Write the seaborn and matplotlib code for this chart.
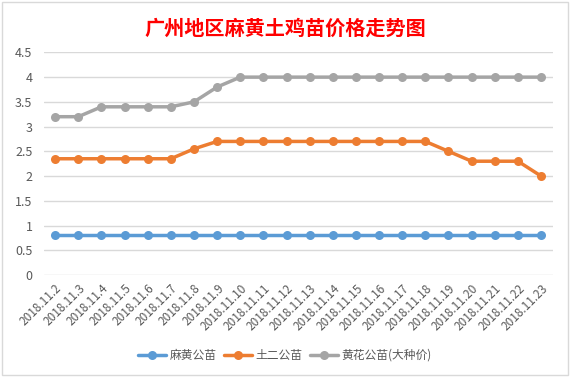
import numpy as np
import pandas as pd
import seaborn as sns
import matplotlib as mpl
mpl.use('Agg')
import matplotlib.pyplot as plt

# 数据
dates = ['2018.11.%d' % d for d in range(2, 24)]
mahuang = [0.8] * 22
tuer = [2.35, 2.35, 2.35, 2.35, 2.35, 2.35, 2.55, 2.7, 2.7, 2.7, 2.7,
        2.7, 2.7, 2.7, 2.7, 2.7, 2.7, 2.5, 2.3, 2.3, 2.3, 2.0]
huanghua = [3.2, 3.2, 3.4, 3.4, 3.4, 3.4, 3.5, 3.8, 4.0, 4.0, 4.0,
            4.0, 4.0, 4.0, 4.0, 4.0, 4.0, 4.0, 4.0, 4.0, 4.0, 4.0]
series_names = ['麻黄公苗', '土二公苗', '黄花公苗(大种价)']
colors = ['#5B9BD5', '#ED7D31', '#A5A5A5']

df = pd.DataFrame({
    'date': dates * 3,
    'price': mahuang + tuer + huanghua,
    'series': [n for n in series_names for _ in dates],
})

sns.set_theme(style='white')
plt.rcParams['font.family'] = ['Noto Sans CJK SC', 'DejaVu Sans']

fig = plt.figure(figsize=(5.7, 3.77), dpi=100)
ax = fig.add_axes([0.0765, 0.2706, 0.893, 0.5904])

sns.lineplot(data=df, x='date', y='price', hue='series', palette=colors,
             marker='o', markersize=6.5, markeredgewidth=0, linewidth=2.5,
             sort=False, ax=ax)

ax.set_xlim(-0.5, len(dates) - 0.5)
ax.set_ylim(0, 4.5)
ax.set_yticks(np.arange(0, 4.51, 0.5))
ax.set_yticklabels(['0', '0.5', '1', '1.5', '2', '2.5', '3', '3.5', '4', '4.5'])
ax.grid(axis='y', color='#D9D9D9', linewidth=1)
ax.set_axisbelow(True)
for s in ax.spines.values():
    s.set_visible(False)
ax.set_xlabel('')
ax.set_ylabel('')
ax.tick_params(axis='y', labelsize=9, labelcolor='#595959', length=0, pad=8)
ax.set_xticks(range(len(dates)))
ax.set_xticklabels(dates, rotation=45, ha='right', rotation_mode='anchor',
                   fontsize=8.5, color='#595959')
ax.tick_params(axis='x', length=0, pad=5)

fig.text(0.5, 0.925, '广州地区麻黄土鸡苗价格走势图', ha='center', va='center',
         fontsize=14.5, color='#FF0000', fontweight='bold')

handles, labels = ax.get_legend_handles_labels()
ax.legend(handles, labels, loc='center', bbox_to_anchor=(0.5, 0.058),
          bbox_transform=fig.transFigure, ncol=3, frameon=False, fontsize=8.5,
          handlelength=2.4, columnspacing=0.6, handletextpad=0.3,
          labelcolor='#595959')

fig.add_artist(plt.Rectangle((0.004, 0.004), 0.992, 0.992, fill=False,
                             edgecolor='#D9D9D9', linewidth=1,
                             transform=fig.transFigure))

fig.savefig('out.png', dpi=100)
